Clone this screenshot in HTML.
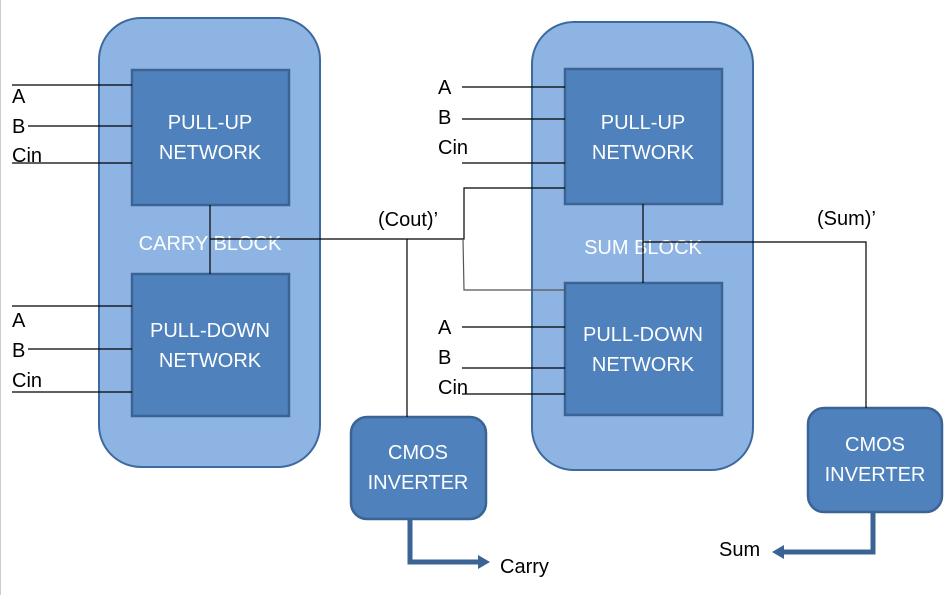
<!DOCTYPE html>
<html><head><style>body{margin:0;background:#fff}svg{display:block}</style></head><body>
<svg width="951" height="595" xmlns="http://www.w3.org/2000/svg" font-family="Liberation Sans, sans-serif">
<rect x="0" y="0" width="951" height="595" fill="#fff"/>
<line x1="0.5" y1="0" x2="0.5" y2="595" stroke="#ccc"/>
<rect x="99" y="18" width="221" height="449" rx="42" fill="#8eb4e3" stroke="#3d6a9e" stroke-width="2"/>
<rect x="532" y="22" width="221" height="448" rx="42" fill="#8eb4e3" stroke="#3d6a9e" stroke-width="2"/>
<g fill="#4f81bd" stroke="#3b6494" stroke-width="2.5">
<rect x="132" y="70" width="157" height="135"/>
<rect x="132" y="274" width="157" height="142"/>
<rect x="565" y="69" width="157" height="135"/>
<rect x="565" y="283" width="157" height="132"/>
<rect x="351" y="417" width="135" height="102" rx="16"/>
<rect x="808" y="408" width="134" height="104" rx="16"/>
</g>
<g fill="#fff" font-size="20" text-anchor="middle">
<text x="210" y="129">PULL-UP</text><text x="210" y="159">NETWORK</text>
<text x="210" y="337">PULL-DOWN</text><text x="210" y="367">NETWORK</text>
<text x="643" y="129">PULL-UP</text><text x="643" y="159">NETWORK</text>
<text x="643" y="341">PULL-DOWN</text><text x="643" y="371">NETWORK</text>
<text x="210" y="250">CARRY BLOCK</text>
<text x="643" y="254">SUM BLOCK</text>
<text x="418" y="459">CMOS</text><text x="418" y="489">INVERTER</text>
<text x="875" y="451">CMOS</text><text x="875" y="481">INVERTER</text>
</g>
<g stroke="#000" stroke-width="1.2" fill="none">
<line x1="12" y1="85" x2="132" y2="85"/><line x1="28" y1="126" x2="132" y2="126"/><line x1="12" y1="163" x2="132" y2="163"/>
<line x1="12" y1="306" x2="132" y2="306"/><line x1="28" y1="349" x2="132" y2="349"/><line x1="12" y1="392" x2="132" y2="392"/>
<line x1="462" y1="87" x2="565" y2="87"/><line x1="462" y1="119" x2="565" y2="119"/><line x1="462" y1="163" x2="565" y2="163"/>
<line x1="462" y1="327" x2="565" y2="327"/><line x1="462" y1="368" x2="565" y2="368"/><line x1="462" y1="394" x2="565" y2="394"/>
<line x1="210" y1="205" x2="210" y2="274"/>
<polyline points="210,239 464,239 464,188 565,188"/>
<line x1="407" y1="239" x2="407" y2="417"/>
<polyline points="463,239 464,290 565,290" stroke="#555"/>
<line x1="643" y1="204" x2="643" y2="283"/>
<polyline points="643,242 866,242 866,408"/>
</g>
<g stroke="#3b6494" stroke-width="5" fill="none">
<polyline points="410,519 410,562 480,562"/>
<polyline points="873,512 873,552 782,552"/>
</g>
<polygon points="478,555 490,562 478,569" fill="#3b6494"/>
<polygon points="784,545 772,552 784,559" fill="#3b6494"/>
<g fill="#000" font-size="20">
<text x="12" y="103">A</text><text x="12" y="133">B</text><text x="12" y="162">Cin</text>
<text x="12" y="327">A</text><text x="12" y="357">B</text><text x="12" y="387">Cin</text>
<text x="438" y="94">A</text><text x="438" y="124">B</text><text x="438" y="154">Cin</text>
<text x="438" y="334">A</text><text x="438" y="364">B</text><text x="438" y="394">Cin</text>
<text x="378" y="226">(Cout)’</text>
<text x="817" y="225">(Sum)’</text>
<text x="500" y="573">Carry</text>
<text x="719" y="556">Sum</text>
</g>
</svg>
</body></html>
